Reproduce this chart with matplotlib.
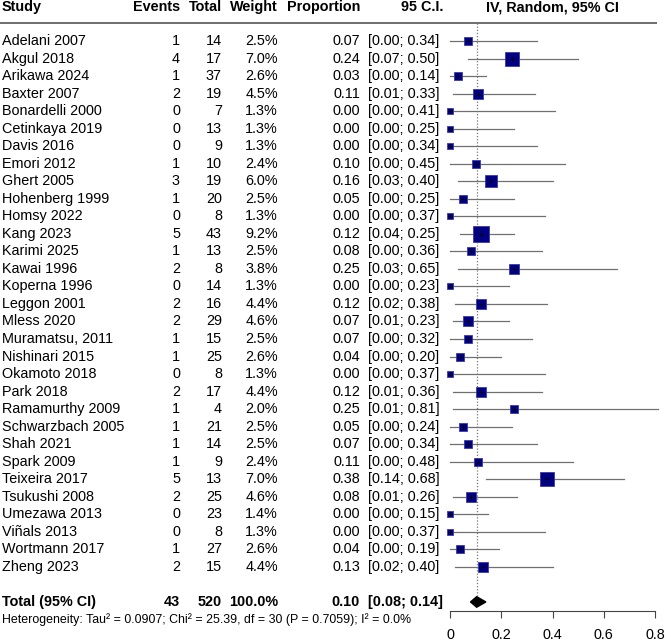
import numpy as np
import matplotlib
matplotlib.use("Agg")
import matplotlib.pyplot as plt

plt.rcParams['font.family'] = ['Liberation Sans', 'DejaVu Sans']

studies = ["Adelani 2007", "Akgul 2018", "Arikawa 2024", "Baxter 2007", "Bonardelli 2000",
           "Cetinkaya 2019", "Davis 2016", "Emori 2012", "Ghert 2005", "Hohenberg 1999",
           "Homsy 2022", "Kang 2023", "Karimi 2025", "Kawai 1996", "Koperna 1996",
           "Leggon 2001", "Mless 2020", "Muramatsu, 2011", "Nishinari 2015", "Okamoto 2018",
           "Park 2018", "Ramamurthy 2009", "Schwarzbach 2005", "Shah 2021", "Spark 2009",
           "Teixeira 2017", "Tsukushi 2008", "Umezawa 2013", "Viñals 2013", "Wortmann 2017",
           "Zheng 2023"]
events = [1, 4, 1, 2, 0, 0, 0, 1, 3, 1, 0, 5, 1, 2, 0, 2, 2, 1, 1, 0, 2, 1, 1, 1, 1, 5, 2, 0, 0, 1, 2]
totals = [14, 17, 37, 19, 7, 13, 9, 10, 19, 20, 8, 43, 13, 8, 14, 16, 29, 15, 25, 8, 17, 4, 21, 14, 9,
          13, 25, 23, 8, 27, 15]
weights = [2.5, 7.0, 2.6, 4.5, 1.3, 1.3, 1.3, 2.4, 6.0, 2.5, 1.3, 9.2, 2.5, 3.8, 1.3, 4.4, 4.6, 2.5,
           2.6, 1.3, 4.4, 2.0, 2.5, 2.5, 2.4, 7.0, 4.6, 1.4, 1.3, 2.6, 4.4]
props = [0.07, 0.24, 0.03, 0.11, 0.00, 0.00, 0.00, 0.10, 0.16, 0.05, 0.00, 0.12, 0.08, 0.25, 0.00,
         0.12, 0.07, 0.07, 0.04, 0.00, 0.12, 0.25, 0.05, 0.07, 0.11, 0.38, 0.08, 0.00, 0.00, 0.04, 0.13]
ci_lo = [0.00, 0.07, 0.00, 0.01, 0.00, 0.00, 0.00, 0.00, 0.03, 0.00, 0.00, 0.04, 0.00, 0.03, 0.00,
         0.02, 0.01, 0.00, 0.00, 0.00, 0.01, 0.01, 0.00, 0.00, 0.00, 0.14, 0.01, 0.00, 0.00, 0.00, 0.02]
ci_hi = [0.34, 0.50, 0.14, 0.33, 0.41, 0.25, 0.34, 0.45, 0.40, 0.25, 0.37, 0.25, 0.36, 0.65, 0.23,
         0.38, 0.23, 0.32, 0.20, 0.37, 0.36, 0.81, 0.24, 0.34, 0.48, 0.68, 0.26, 0.15, 0.37, 0.19, 0.40]
total_events = 43
total_n = 520
pooled = 0.104
pooled_lo = 0.08
pooled_hi = 0.14
hetero = "Heterogeneity: Tau² = 0.0907; Chi² = 25.39, df = 30 (P = 0.7059); I² = 0.0%"
xticks = [0, 0.2, 0.4, 0.6, 0.8]
xticklabels = ["0", "0.2", "0.4", "0.6", "0.8"]
forest_title = "IV, Random, 95% CI"

W, H = 666, 644
fig = plt.figure(figsize=(W / 100, H / 100), dpi=100)
row0_px, row_h = 41.0, 17.53
ylim = ((H - row0_px) / row_h, -row0_px / row_h)

ax = fig.add_axes([0, 0, 1, 1])
ax.set_xlim(0, W)
ax.set_ylim(*ylim)
ax.axis('off')

fs = 10.4
n = len(studies)
rows = np.arange(n)
x_study, x_ev, x_tot, x_w, x_p, x_ci = 2, 180, 222, 278, 360, 368

# header
hy = -1.92
ax.text(x_study, hy, "Study", ha='left', va='center', fontsize=fs, fontweight='bold')
ax.text(x_ev, hy, "Events", ha='right', va='center', fontsize=fs, fontweight='bold')
ax.text(x_tot, hy, "Total", ha='right', va='center', fontsize=fs, fontweight='bold')
ax.text(x_w, hy, "Weight", ha='right', va='center', fontsize=fs, fontweight='bold')
ax.text(x_p, hy, "Proportion", ha='right', va='center', fontsize=fs, fontweight='bold')
ax.text(443, hy, "95 C.I.", ha='right', va='center', fontsize=fs, fontweight='bold')
ax.plot([0, 657], [-1.03, -1.03], color='#555555', lw=1.2, solid_capstyle='butt')

for i in rows:
    ax.text(x_study, i, studies[i], ha='left', va='center', fontsize=fs)
    ax.text(x_ev, i, f"{events[i]}", ha='right', va='center', fontsize=fs)
    ax.text(x_tot, i, f"{totals[i]}", ha='right', va='center', fontsize=fs)
    ax.text(x_w, i, f"{weights[i]:.1f}%", ha='right', va='center', fontsize=fs)
    ax.text(x_p, i, f"{props[i]:.2f}", ha='right', va='center', fontsize=fs)
    ax.text(x_ci, i, f"[{ci_lo[i]:.2f}; {ci_hi[i]:.2f}]", ha='left', va='center', fontsize=fs)

ty = n + 1
ax.text(x_study, ty, "Total (95% CI)", ha='left', va='center', fontsize=fs, fontweight='bold')
ax.text(x_ev, ty, f"{total_events}", ha='right', va='center', fontsize=fs, fontweight='bold')
ax.text(x_tot, ty, f"{total_n}", ha='right', va='center', fontsize=fs, fontweight='bold')
ax.text(x_w, ty, f"{sum(weights):.1f}%", ha='right', va='center', fontsize=fs, fontweight='bold')
ax.text(x_p, ty, f"{pooled:.2f}", ha='right', va='center', fontsize=fs, fontweight='bold')
ax.text(x_ci, ty, f"[{pooled_lo:.2f}; {pooled_hi:.2f}]", ha='left', va='center', fontsize=fs,
        fontweight='bold')
ax.text(x_study, ty + 1.0, hetero, ha='left', va='center', fontsize=8.9)

# forest panel
fx = fig.add_axes([450 / W, 0, 205 / W, 1])
fx.set_xlim(0, 0.8)
fx.set_ylim(*ylim)
fx.patch.set_visible(False)
for s in ['top', 'left', 'right']:
    fx.spines[s].set_visible(False)
fx.spines['bottom'].set_position(('data', n + 1.5))
fx.spines['bottom'].set_color('#444444')
fx.spines['bottom'].set_linewidth(0.8)
fx.set_yticks([])
fx.set_xticks(xticks)
fx.set_xticklabels(xticklabels, fontsize=fs)
fx.tick_params(axis='x', direction='out', length=5.2, width=0.8, color='#444444', pad=7.5)

fx.text(0.4, hy, forest_title, ha='center', va='center', fontsize=fs, fontweight='bold',
        clip_on=False)

fx.plot([pooled, pooled], [-1.0, n + 0.7], color='#777777', lw=0.9, ls=(0, (1, 1.5)), zorder=1)

for i in rows:
    fx.plot([ci_lo[i], ci_hi[i]], [i, i], color='#707070', lw=0.9, clip_on=False, zorder=2)
    side_px = 5.0 * np.sqrt(weights[i])
    fx.plot(props[i], i, marker='s', markersize=side_px / 1.389, markerfacecolor='#000080',
            markeredgecolor='#3a3aa8', markeredgewidth=0.6, clip_on=False, zorder=3)
    fx.plot(props[i], i, marker='+', markersize=3, color='black', markeredgewidth=0.6,
            clip_on=False, zorder=4)

dh = 0.3
fx.fill([pooled_lo, pooled, pooled_hi, pooled], [ty, ty - dh, ty, ty + dh], color='black',
        zorder=3, clip_on=False)

fig.savefig("out.png", dpi=100)
